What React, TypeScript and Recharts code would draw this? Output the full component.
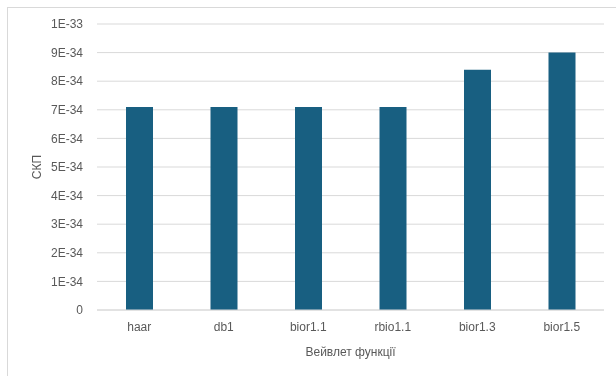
import React from 'react';
import { BarChart, Bar, XAxis, YAxis, CartesianGrid } from 'recharts';

const categories = ['haar', 'db1', 'bior1.1', 'rbio1.1', 'bior1.3', 'bior1.5'];
const errors = [7.1e-34, 7.1e-34, 7.1e-34, 7.1e-34, 8.4e-34, 9.0e-34];
const yTicks = [0, 1e-34, 2e-34, 3e-34, 4e-34, 5e-34, 6e-34, 7e-34, 8e-34, 9e-34, 1e-33];

const data = categories.map((name, i) => ({ name, value: errors[i] }));

const TEXT = '#595959';
const GRID = '#d9d9d9';
const BAR = '#185f81';
const FONT = '"Liberation Sans", Arial, sans-serif';

const fmt = (v: number) => (v === 0 ? '0' : v.toExponential(0).toUpperCase());

const App: React.FC = () => {
  return (
    <div style={{ width: 600, height: 360, fontFamily: FONT }}>
      {/* chart frame, runs off the right and bottom of the page like in the original */}
      <div
        style={{
          position: 'fixed',
          left: 7,
          top: 7,
          width: 800,
          height: 600,
          border: '1px solid #d9d9d9',
          pointerEvents: 'none',
        }}
      />
      <BarChart
        width={600}
        height={360}
        data={data}
        margin={{ top: 16, right: 4, bottom: 8, left: 0 }}
        barSize={27}
      >
        <CartesianGrid vertical={false} stroke={GRID} />
        <XAxis
          dataKey="name"
          axisLine={{ stroke: GRID }}
          tickLine={false}
          tickSize={0}
          tickMargin={12}
          height={50}
          tick={{ fill: TEXT, fontSize: 12, fontFamily: FONT }}
          label={{
            content: ({ viewBox }: any) => (
              <text
                x={viewBox.x + viewBox.width / 2}
                y={viewBox.y + 46}
                textAnchor="middle"
                fill={TEXT}
                fontSize={12}
                fontFamily={FONT}
              >
                Вейвлет функції
              </text>
            ),
          }}
        />
        <YAxis
          width={89}
          domain={[0, 1e-33]}
          ticks={yTicks}
          tickFormatter={fmt}
          axisLine={false}
          tickLine={false}
          tickSize={0}
          tickMargin={14}
          tick={{ fill: TEXT, fontSize: 12, fontFamily: FONT }}
          label={{
            content: ({ viewBox }: any) => (
              <text
                x={viewBox.x + 33}
                y={viewBox.y + viewBox.height / 2}
                transform={`rotate(-90, ${viewBox.x + 33}, ${viewBox.y + viewBox.height / 2})`}
                textAnchor="middle"
                fill={TEXT}
                fontSize={12}
                fontFamily={FONT}
              >
                СКП
              </text>
            ),
          }}
        />
        <Bar dataKey="value" fill={BAR} isAnimationActive={false} />
      </BarChart>
    </div>
  );
};

export default App;
